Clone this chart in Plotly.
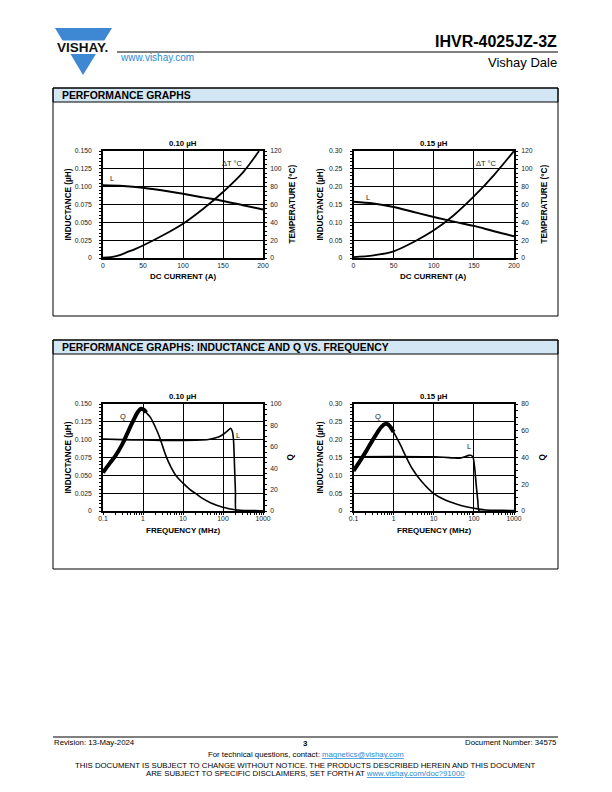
import plotly.graph_objects as go
import math

W, H = 612, 792
FONT = "Liberation Sans, Arial, Helvetica, sans-serif"

# ---------------- data ----------------
# Chart 1: 0.10 uH, inductance / temperature vs DC current
cur_L1 = [0, 25, 50, 75, 100, 125, 150, 175, 200]
ind_L1 = [0.102, 0.101, 0.0985, 0.0945, 0.090, 0.085, 0.080, 0.074, 0.068]
cur_T1 = [0, 10, 20, 30, 40, 50, 75, 100, 125, 150, 175, 195]
temp_T1 = [0.3, 1, 3, 6.5, 10, 14, 25.5, 38.5, 55, 74, 96, 120]

# Chart 2: 0.15 uH
cur_L2 = [0, 25, 50, 75, 100, 125, 150, 175, 200]
ind_L2 = [0.158, 0.153, 0.143, 0.129, 0.115, 0.102, 0.090, 0.075, 0.061]
cur_T2 = [0, 25, 50, 75, 100, 125, 150, 175, 200]
temp_T2 = [1, 3, 7.5, 18, 31, 48, 69, 93, 120]

# Chart 3: 0.10 uH, L and Q vs frequency
freq_L3 = [0.1, 0.3, 1, 3, 10, 30, 50, 80, 110, 140, 155, 170, 183, 195, 205, 212, 300, 1000]
ind_L3 = [0.101, 0.100, 0.0995, 0.099, 0.099, 0.0995, 0.101, 0.104, 0.109, 0.114, 0.116, 0.112, 0.100, 0.060, 0.025, 0.0, 0.0, 0.0]
freq_Q3 = [0.1, 0.15, 0.2, 0.3, 0.4, 0.5, 0.6, 0.7, 0.8, 0.9, 1.0, 1.1, 1.2, 1.5, 2, 2.6, 3.7, 5,
           6.7, 10, 15, 21.5, 30, 50, 100, 200, 500, 1000]
q_Q3 = [36, 45, 51, 62, 72, 80, 86, 91, 94, 95.5, 95, 94, 92, 88, 79, 69, 52, 41,
        33, 26, 20, 16, 12, 7.5, 3.5, 1.2, 0.4, 0.3]

# Chart 4: 0.15 uH
freq_L4 = [0.1, 1, 10, 30, 45, 60, 75, 86, 96, 105, 115, 125, 135, 300, 1000]
ind_L4 = [0.152, 0.153, 0.152, 0.149, 0.148, 0.152, 0.156, 0.156, 0.150, 0.120, 0.070, 0.030, 0.0, 0.0, 0.0]
freq_Q4 = [0.1, 0.15, 0.2, 0.3, 0.4, 0.5, 0.6, 0.7, 0.8, 1, 1.5, 2, 3, 5, 10, 20, 50, 100, 200, 500, 1000]
q_Q4 = [30, 38, 44, 53, 59, 63, 65, 65, 63.5, 59, 49, 41, 31, 22, 13, 8, 4, 2, 0.7, 0.5, 0.3]

# tick labels
cur_ticks = [0, 50, 100, 150, 200]
freq_ticks = [0.1, 1, 10, 100, 1000]
freq_ticktext = ["0.1", "1", "10", "100", "1000"]
ind1_ticks = [0, 0.025, 0.05, 0.075, 0.1, 0.125, 0.15]
ind1_text = ["0", "0.025", "0.050", "0.075", "0.100", "0.125", "0.150"]
ind2_ticks = [0, 0.05, 0.10, 0.15, 0.20, 0.25, 0.30]
ind2_text = ["0", "0.05", "0.10", "0.15", "0.20", "0.25", "0.30"]
temp_ticks = [0, 20, 40, 60, 80, 100, 120]
q3_ticks = [0, 20, 40, 60, 80, 100]
q4_ticks = [0, 20, 40, 60, 80]


def px(x):
    return x / W


def py(y):
    return 1 - y / H


X_LEFT = [px(103), px(263)]
X_RIGHT = [px(353.5), px(514)]
Y_TOP = [py(258), py(151)]
Y_BOT = [py(511), py(404)]

TF = dict(family=FONT, size=6.8, color="#222")

fig = go.Figure()

# traces
fig.add_trace(go.Scatter(x=cur_L1, y=ind_L1, xaxis="x", yaxis="y", mode="lines",
                         line=dict(color="black", width=2, shape="spline")))
fig.add_trace(go.Scatter(x=cur_T1, y=temp_T1, xaxis="x", yaxis="y2", mode="lines",
                         line=dict(color="black", width=1.8, shape="spline")))
fig.add_trace(go.Scatter(x=cur_L2, y=ind_L2, xaxis="x2", yaxis="y3", mode="lines",
                         line=dict(color="black", width=2, shape="spline")))
fig.add_trace(go.Scatter(x=cur_T2, y=temp_T2, xaxis="x2", yaxis="y4", mode="lines",
                         line=dict(color="black", width=1.8, shape="spline")))

fig.add_trace(go.Scatter(x=freq_L3, y=ind_L3, xaxis="x3", yaxis="y5", mode="lines",
                         line=dict(color="black", width=1.6, shape="spline", smoothing=0.5)))
fig.add_trace(go.Scatter(x=freq_Q3, y=q_Q3, xaxis="x3", yaxis="y6", mode="lines",
                         line=dict(color="black", width=1.6, shape="spline", smoothing=1)))
n3 = sum(1 for f in freq_Q3 if f <= 1.2)
fig.add_trace(go.Scatter(x=freq_Q3[:n3], y=q_Q3[:n3], xaxis="x3", yaxis="y6", mode="lines",
                         line=dict(color="black", width=4, shape="spline", smoothing=1)))

fig.add_trace(go.Scatter(x=freq_L4, y=ind_L4, xaxis="x4", yaxis="y7", mode="lines",
                         line=dict(color="black", width=1.6, shape="spline", smoothing=0.5)))
fig.add_trace(go.Scatter(x=freq_Q4, y=q_Q4, xaxis="x4", yaxis="y8", mode="lines",
                         line=dict(color="black", width=1.6, shape="spline", smoothing=1)))
n4 = sum(1 for f in freq_Q4 if f <= 1.0)
fig.add_trace(go.Scatter(x=freq_Q4[:n4], y=q_Q4[:n4], xaxis="x4", yaxis="y8", mode="lines",
                         line=dict(color="black", width=4, shape="spline", smoothing=1)))

COMMON = dict(automargin=False, zeroline=False, fixedrange=True, tickfont=TF, ticks="",
              showline=True, linecolor="black", linewidth=1.6)


def xlin(domain, anchor):
    return dict(COMMON, domain=domain, anchor=anchor, range=[0, 200], tickvals=cur_ticks,
                showgrid=True, gridcolor="black", gridwidth=1.2, mirror=True)


def xlog(domain, anchor):
    return dict(COMMON, domain=domain, anchor=anchor, type="log", range=[-1, 3],
                tickvals=freq_ticks, ticktext=freq_ticktext,
                showgrid=True, gridcolor="black", gridwidth=1.2, mirror=True,
                minor=dict(ticks="outside", ticklen=2, tickcolor="black", dtick="D1",
                           showgrid=False))


def yleft(domain, anchor, rng, tv, tt, mdt):
    return dict(COMMON, domain=domain, anchor=anchor, range=rng, tickvals=tv, ticktext=tt,
                showgrid=True, gridcolor="black", gridwidth=1.2, mirror=True,
                ticklabelstandoff=8,
                minor=dict(ticks="outside", ticklen=2, tickcolor="black", dtick=mdt,
                           showgrid=False))


def yright(overlay, anchor, rng, tv, mdt):
    return dict(COMMON, overlaying=overlay, anchor=anchor, side="right", range=rng,
                tickvals=tv, showgrid=False, ticklabelstandoff=4,
                minor=dict(ticks="outside", ticklen=2, tickcolor="black", dtick=mdt,
                           showgrid=False))


layout = dict(
    width=W, height=H, autosize=False,
    margin=dict(l=0, r=0, t=0, b=0, pad=0, autoexpand=False),
    paper_bgcolor="white", plot_bgcolor="white",
    showlegend=False,
    font=dict(family=FONT, color="black"),
    xaxis=xlin(X_LEFT, "y"),
    yaxis=yleft(Y_TOP, "x", [0, 0.15], ind1_ticks, ind1_text, 0.005),
    yaxis2=yright("y", "x", [0, 120], temp_ticks, 5),
    xaxis2=xlin(X_RIGHT, "y3"),
    yaxis3=yleft(Y_TOP, "x2", [0, 0.30], ind2_ticks, ind2_text, 0.01),
    yaxis4=yright("y3", "x2", [0, 120], temp_ticks, 5),
    xaxis3=xlog(X_LEFT, "y5"),
    yaxis5=yleft(Y_BOT, "x3", [0, 0.15], ind1_ticks, ind1_text, 0.005),
    yaxis6=yright("y5", "x3", [0, 100], q3_ticks, 5),
    xaxis4=xlog(X_RIGHT, "y7"),
    yaxis7=yleft(Y_BOT, "x4", [0, 0.30], ind2_ticks, ind2_text, 0.01),
    yaxis8=yright("y7", "x4", [0, 80], q4_ticks, 5),
)
fig.update_layout(**layout)

shapes = []
ann = []


def text(x, y, s, size=7, bold=False, xanchor="center", color="black", angle=0):
    if bold:
        s = "<b>" + s + "</b>"
    ann.append(dict(x=px(x), y=py(y), xref="paper", yref="paper", text=s, showarrow=False,
                    xanchor=xanchor, yanchor="middle", textangle=angle, borderpad=0,
                    font=dict(family=FONT, size=size, color=color)))


# ---- page header ----
BLUE = "#3d87d3"
shapes.append(dict(type="path", xref="paper", yref="paper",
                   path=f"M {px(55)},{py(28)} L {px(112)},{py(28)} L {px(83)},{py(75)} Z",
                   fillcolor=BLUE, line=dict(width=0)))
shapes.append(dict(type="rect", xref="paper", yref="paper", x0=px(50), x1=px(116),
                   y0=py(54), y1=py(40.5), fillcolor="white", line=dict(width=0)))
text(82.5, 47.5, "VISHAY.", size=13.5, bold=True, color="#111")
shapes.append(dict(type="line", xref="paper", yref="paper", x0=px(117), x1=px(558),
                   y0=py(52), y1=py(52), line=dict(color="black", width=1)))
text(558, 41, "IHVR-4025JZ-3Z", size=16, bold=True, xanchor="right")
text(558, 62, "Vishay Dale", size=13, xanchor="right")
text(119, 58, "www.vishay.com", size=10, xanchor="left", color="#2a8ad6")

# ---- section boxes ----
HDR = "#d3e6f3"
for (y0, y1, title) in [(88, 316, "PERFORMANCE GRAPHS"),
                        (340, 569, "PERFORMANCE GRAPHS: INDUCTANCE AND Q VS. FREQUENCY")]:
    shapes.append(dict(type="rect", xref="paper", yref="paper", x0=px(53), x1=px(558),
                       y0=py(y0 + 14), y1=py(y0), fillcolor=HDR,
                       line=dict(color="black", width=1)))
    shapes.append(dict(type="rect", xref="paper", yref="paper", x0=px(53), x1=px(558),
                       y0=py(y1), y1=py(y0), line=dict(color="black", width=1)))
    text(61, y0 + 7.5, title, size=10.4, bold=True, xanchor="left")

# ---- chart titles and axis titles ----
for (cx, yc, ytit, xt_y, xt, lt_x, rt_x, rt, ttl) in [
    (183, 143, 204.5, 277, "DC CURRENT (A)", 68, 292, "TEMPERATURE (°C)", "0.10 µH"),
    (433.5, 143, 204.5, 277, "DC CURRENT (A)", 320, 544, "TEMPERATURE (°C)", "0.15 µH"),
    (183, 396, 457.5, 530, "FREQUENCY (MHz)", 68, 290, "Q", "0.10 µH"),
    (434, 396, 457.5, 530, "FREQUENCY (MHz)", 320, 542, "Q", "0.15 µH"),
]:
    text(cx, yc, ttl, size=7.8, bold=True)
    text(cx, xt_y, xt, size=8, bold=True)
    text(lt_x, ytit, "INDUCTANCE (µH)", size=8.2, bold=True, angle=-90)
    text(rt_x, ytit, rt, size=8.2, bold=True, angle=-90)


# ---- curve labels (data coordinates) ----
def dlabel(x, y, xr, yr, s):
    ann.append(dict(x=x, y=y, xref=xr, yref=yr, text=s, showarrow=False,
                    font=dict(family=FONT, size=7.5, color="#222")))


dlabel(11, 0.111, "x", "y", "L")
dlabel(162, 0.133, "x", "y", "ΔT °C")
dlabel(18.6, 0.169, "x2", "y3", "L")
dlabel(166, 0.266, "x2", "y3", "ΔT °C")
dlabel(math.log10(0.31), 0.132, "x3", "y5", "Q")
dlabel(math.log10(237), 0.1065, "x3", "y5", "L")
dlabel(math.log10(0.4), 0.264, "x4", "y7", "Q")
dlabel(math.log10(75), 0.180, "x4", "y7", "L")

# ---- footer ----
shapes.append(dict(type="line", xref="paper", yref="paper", x0=px(53), x1=px(558),
                   y0=py(737), y1=py(737), line=dict(color="black", width=1)))
text(53, 742.5, "Revision: 13-May-2024", size=7.8, xanchor="left")
text(305.5, 743, "3", size=7.8, bold=True)
text(558, 742.5, "Document Number: 34575", size=7.8, xanchor="right")
text(305.5, 754, "For technical questions, contact: "
     "<span style='color:#2a8ad6;text-decoration:underline'>magnetics@vishay.com</span>", size=7.8)
text(305.5, 765, "THIS DOCUMENT IS SUBJECT TO CHANGE WITHOUT NOTICE. THE PRODUCTS DESCRIBED HEREIN AND THIS DOCUMENT", size=7.8)
text(305.5, 773, "ARE SUBJECT TO SPECIFIC DISCLAIMERS, SET FORTH AT "
     "<span style='color:#2a8ad6;text-decoration:underline'>www.vishay.com/doc?91000</span>", size=7.8)

fig.update_layout(shapes=shapes, annotations=ann)
fig.write_html("out.html", config={"displayModeBar": False},
               post_script="document.body.style.margin='0';document.body.style.overflow='hidden';")
